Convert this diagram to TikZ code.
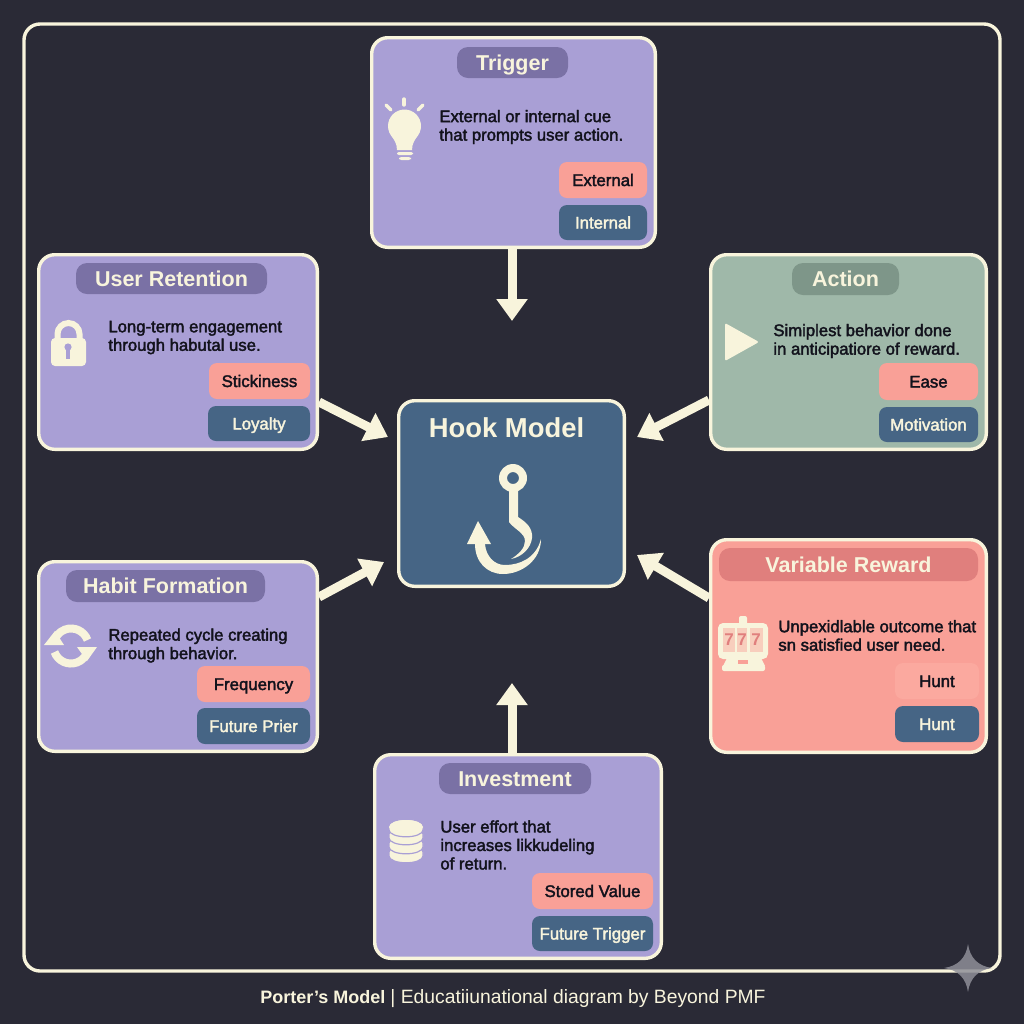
\documentclass[tikz,border=0pt]{standalone}
\usepackage{fontspec}
\setmainfont{Liberation Sans}
\newfontfamily\medf[FakeBold=2.2]{Liberation Sans}
\usetikzlibrary{arrows.meta}
\definecolor{bgc}{HTML}{2A2A36}
\definecolor{creamc}{HTML}{F8F4DC}
\definecolor{purplec}{HTML}{A99FD5}
\definecolor{pillp}{HTML}{7A71A5}
\definecolor{greenc}{HTML}{9FB8A9}
\definecolor{pillg}{HTML}{7E9689}
\definecolor{coralc}{HTML}{F9A097}
\definecolor{pillc}{HTML}{E07F7D}
\definecolor{tagl}{HTML}{FBA99F}
\definecolor{bluec}{HTML}{466585}
\definecolor{inkc}{HTML}{12121C}
\definecolor{starc}{HTML}{8F8F98}
\tikzset{
 x=0.5pt,y=-0.5pt,
 span/.style args={#1/#2/#3/#4}{minimum width={(#3-#1)*0.5pt},minimum height={(#4-#2)*0.5pt},at={({(#1+#3)/2},{(#2+#4)/2})}},
 cardspan/.style args={#1/#2/#3/#4}{minimum width={(#3-#1-3.4)*0.5pt},minimum height={(#4-#2-3.4)*0.5pt},at={({(#1+#3)/2},{(#2+#4)/2})}},
 card/.style={draw=creamc,line width=1.7pt,rounded corners=8pt,inner sep=0pt},
 pillbox/.style={rounded corners=5.5pt,inner sep=0pt,text=creamc,font=\fontsize{10.75}{12}\selectfont\bfseries,text height=7.8pt,text depth=0pt},
 tagbox/.style={rounded corners=4pt,inner sep=0pt,font=\fontsize{8.4}{10}\medf,text height=6pt,text depth=0pt},
 warm/.style={tagbox,fill=coralc,text=inkc},
 cool/.style={tagbox,fill=bluec,text=creamc},
 bodytext/.style={anchor=west,align=left,inner sep=0pt,text=inkc,font=\fontsize{8.35}{9.25}\medf},
 flow/.style={draw=creamc,line width=4.5pt,-{Triangle[width=15pt,length=11pt]}},
 ink/.style={fill=creamc,draw=none},
 inkline/.style={draw=creamc,line cap=round,fill=none},
 disc/.style={fill=creamc,draw=purplec,line width=0.6pt},
 seven/.style={inner sep=0pt,text=pillc,font=\fontsize{8.5}{9}\selectfont\bfseries},
}
\begin{document}
\begin{tikzpicture}
\useasboundingbox (0,0) rectangle (1024,1024);
\fill[bgc] (0,0) rectangle (1024,1024);
\draw[creamc,line width=1.7pt,rounded corners=8pt] (24,24) rectangle (1000,971);

% cards
\node[card,fill=purplec,cardspan=370/36/657/249] (trigger) {};
\node[card,fill=purplec,cardspan=37/253/319/451] (retention) {};
\node[card,fill=greenc,cardspan=709/253/988/451] (action) {};
\node[card,fill=bluec,cardspan=397/399/626/588] (hook) {};
\node[card,fill=purplec,cardspan=37/560/319/753] (habit) {};
\node[card,fill=coralc,cardspan=709/538/988/754] (reward) {};
\node[card,fill=purplec,cardspan=373/753/663/960] (invest) {};

% connectors
\draw[flow] ([xshift=-0.75pt]trigger.south) -- ([xshift=0.25pt,yshift=39pt]hook.north);
\draw[flow] ([yshift=-25pt]retention.east) -- ([xshift=-4.5pt,yshift=28.25pt]hook.west);
\draw[flow] ([yshift=-24pt]action.west) -- ([xshift=5.5pt,yshift=28.25pt]hook.east);
\draw[flow] ([yshift=29.75pt]habit.east) -- ([xshift=-6.5pt,yshift=-34.25pt]hook.west);
\draw[flow] ([yshift=24pt]reward.west) -- ([xshift=5.5pt,yshift=-30.75pt]hook.east);
\draw[flow] ([xshift=-3pt]invest.north) -- ([xshift=0.25pt,yshift=-47.5pt]hook.south);

% titles
\node[pillbox,fill=pillp,span=457/47/568/78] (t1) {Trigger};
\node[pillbox,fill=pillp,span=76/263/267/294] (t2) {User Retention};
\node[pillbox,fill=pillg,span=792/263/899/295] (t3) {Action};
\node[pillbox,fill=pillp,span=66/570/265/602] (t4) {Habit Formation};
\node[pillbox,fill=pillc,span=719/548/978/581] (t5) {Variable Reward};
\node[pillbox,fill=pillp,span=439/763/591/794] (t6) {Investment};
\node[inner sep=0pt,text=creamc,font=\fontsize{13.7}{15}\selectfont\bfseries] (t0) at (506.5,428) {Hook Model};

% descriptions
\node[bodytext] (d1) at (439,127) {External or internal cue\\that prompts user action.};
\node[bodytext] (d2) at (108,337.5) {Long-term engagement\\through habutal use.};
\node[bodytext] (d3) at (773,341) {Simiplest behavior done\\in anticipatiore of reward.};
\node[bodytext] (d4) at (108,645.5) {Repeated cycle creating\\through behavior.};
\node[bodytext] (d5) at (778,635.5) {Unpexidlable outcome that\\sn satisfied user need.};
\node[bodytext] (d6) at (440,845) {User effort that\\increases likkudeling\\of return.};

% tags
\node[warm,span=559/162/647/198] (g1a) {External};
\node[cool,span=559/205/647/240] (g1b) {Internal};
\node[warm,span=209/363/310/399] (g2a) {Stickiness};
\node[cool,span=208/406/310/441] (g2b) {Loyalty};
\node[warm,span=879/363/978/400] (g3a) {Ease\hspace{15pt}};
\node[cool,span=879/407/978/442] (g3b) {Motivation};
\node[warm,span=197/666/310/702] (g4a) {Frequency\hspace{14pt}};
\node[cool,span=197/708/310/744] (g4b) {Future Prier};
\node[tagbox,fill=tagl,text=inkc,span=895/663/979/699] (g5a) {Hunt};
\node[cool,span=895/706/979/742] (g5b) {Hunt};
\node[warm,span=532/873/653/909] (g6a) {Stored Value};
\node[cool,span=532/916/653/951] (g6b) {Future Trigger};

% bulb
\fill[ink] (404.5,126) circle[radius=16.5];
\fill[ink] (391,135) .. controls (394,140) and (397,143) .. (397,150) -- (412,150) .. controls (412,143) and (415,140) .. (418,135) -- cycle;
\fill[ink,rounded corners=1pt] (397,152) rectangle (413,155);
\fill[ink,rounded corners=1.2pt] (399,157) rectangle (411,160);
\draw[inkline,line width=1.7pt] (404,99) -- (404,105);
\draw[inkline,line width=1.7pt] (386,105) -- (391,110);
\draw[inkline,line width=1.7pt] (423,105) -- (418,110);

% lock
\draw[creamc,line width=3pt,fill=none] (57.5,342) -- (57.5,334) arc[start angle=180,end angle=360,radius=11] -- (79.5,342);
\fill[ink,rounded corners=2pt] (51,338) rectangle (86,366);
\fill[purplec] (68,347) circle[radius=3.6];
\fill[purplec] (66,349) rectangle (70,359);

% play
\fill[ink,rounded corners=1pt] (725,323) -- (759,342) -- (725,361) -- cycle;

% cycle icon
\draw[creamc,line width=4pt] (87.5,640) arc[start angle=-20,end angle=-165,radius=17.5];
\fill[ink] (55,631) -- (44,645) -- (64,645) -- cycle;
\draw[creamc,line width=4pt] (54.5,652) arc[start angle=160,end angle=15,radius=17.5];
\fill[ink] (87,661) -- (77,647) -- (97,647) -- cycle;

% slot machine
\fill[ink,rounded corners=1pt] (739,616) rectangle (747,625);
\fill[ink,rounded corners=2.5pt] (718,623) rectangle (768,659);
\fill[creamc!55!coralc] (723,628) rectangle (735,652);
\fill[creamc!55!coralc] (737,628) rectangle (747,652);
\fill[creamc!55!coralc] (750,628) rectangle (763,652);
\node[seven] (s1) at (729,640) {7};
\node[seven] (s2) at (742,640) {7};
\node[seven] (s3) at (756,640) {7};
\fill[ink] (727,658) -- (761,658) -- (765,666) -- (723,666) -- cycle;
\fill[ink,rounded corners=1pt] (722,665) rectangle (765,671);
\fill[coralc] (738,660) rectangle (748,663.5);

% database
\foreach \yy in {856,847,838,830}{
  \draw[disc] (389,\yy-4) -- (389,\yy) arc[start angle=180,end angle=0,x radius=17,y radius=6.8] -- (423,\yy-4) arc[start angle=0,end angle=-180,x radius=17,y radius=6.8] -- cycle;
}
\fill[ink] (406,827) ellipse[x radius=17,y radius=6.8];

% hook icon
\fill[ink,even odd rule] (513,478) circle[radius=14] (513,478) circle[radius=6];
\fill[ink] (509,488) -- (518,488) -- (518,517)
  .. controls (526,522) and (533,528) .. (532,538)
  .. controls (531,548) and (522,557) .. (511,559)
  .. controls (519,554) and (525,548) .. (525,541)
  .. controls (525,533) and (514,529) .. (509,522) -- cycle;
\fill[ink] (541,539) .. controls (541,560) and (522,574) .. (503,574)
  .. controls (487,574) and (475,562) .. (475,544) -- (485,544)
  .. controls (486,556) and (494,565) .. (505,565)
  .. controls (520,565) and (536,558) .. (541,539) -- cycle;
\fill[ink] (478,521) -- (467,544) -- (491,544) -- cycle;

% footer
\node[inner sep=0pt,anchor=west,text=creamc,font=\fontsize{9}{11}\selectfont] (footer) at (260,999) {\textbf{Porter’s Model} {\fontsize{9.65}{11}\selectfont | Educatiiunational diagram by Beyond PMF}};

% sparkle
\fill[starc,opacity=0.85] (968,944) .. controls (970,958) and (978,966) .. (992,968)
  .. controls (978,970) and (970,978) .. (968,992)
  .. controls (966,978) and (958,970) .. (944,968)
  .. controls (958,966) and (966,958) .. (968,944) -- cycle;
\end{tikzpicture}
\end{document}
